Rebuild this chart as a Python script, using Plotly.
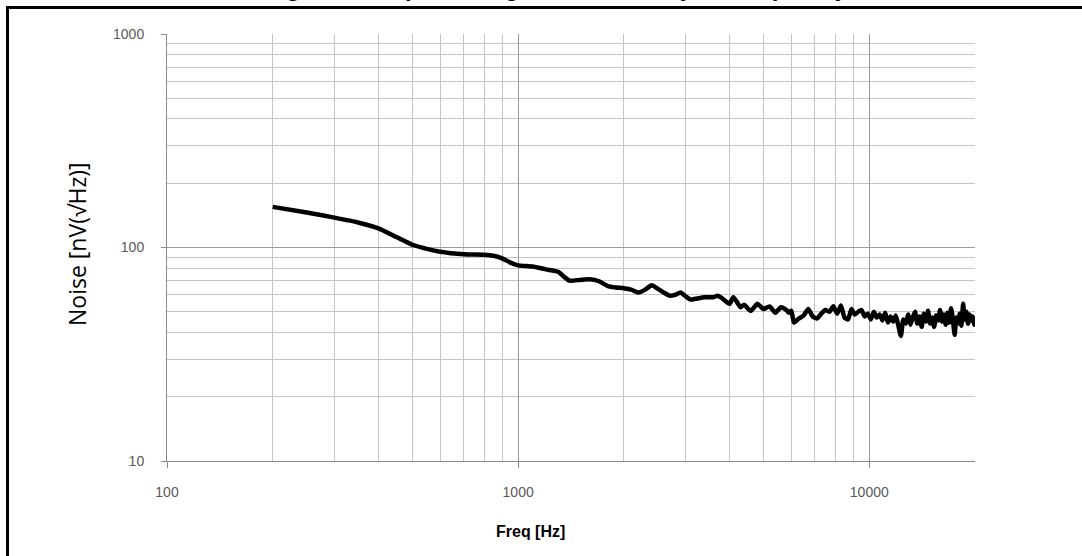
import plotly.graph_objects as go

freq_hz = [200, 250, 300, 350, 400, 450, 500, 550, 600, 700, 800, 850, 900, 950, 1000,
           1100, 1200, 1300, 1350, 1400, 1500, 1600, 1700, 1800, 1900, 2000, 2100, 2200,
           2300, 2400, 2500, 2600, 2700, 2800, 2900, 3000, 3100, 3200, 3400, 3600, 3700,
           3800, 3900, 4000, 4100, 4200, 4300, 4400, 4500, 4600, 4700, 4800, 4900, 5000,
           5200, 5400, 5600, 5800, 5900, 6000, 6100, 6300, 6500, 6700, 6900, 7100, 7300,
           7500, 7700, 7900, 8100, 8300, 8500, 8700, 8900, 9100, 9300, 9500, 9700, 9900,
           10100, 10300, 10500, 10700, 10900, 11100, 11300, 11500, 11700, 11900, 12100,
           12300, 12500, 12700, 12900, 13100, 13300, 13500, 13700, 13900, 14100, 14300,
           14500, 14700, 14900, 15100, 15300, 15500, 15700, 15900, 16100, 16300, 16500,
           16700, 16900, 17100, 17300, 17500, 17700, 17900, 18100, 18300, 18500, 18700,
           18900, 19100, 19300, 19500, 19700, 19900, 20000]

noise_nv = [155, 146, 138, 131, 123, 112, 103, 98.5, 95.5, 93, 92.5, 91.5, 89, 85, 82.5,
            81.5, 79, 77, 73, 70, 70.5, 71, 69.5, 66, 65, 64.5, 63.5, 61.5,
            63.5, 66.5, 64, 61.5, 59.5, 60, 61.5, 59, 57, 57.5, 58.5, 58.5, 59.5,
            58, 56, 54.5, 58.5, 55.5, 52.5, 54, 52, 50.5, 52.5, 54.5, 53, 51.5,
            53, 49.5, 52.5, 51, 49.5, 50.5, 44.5, 46.5, 48, 51.5, 47.5, 46.5, 49,
            51, 50, 53, 49, 53.5, 47, 46, 51.5, 48.5, 50, 51, 47.5, 49,
            46, 50, 47, 48.5, 45.5, 49.5, 44.5, 47.5, 45, 48, 43,
            38.5, 46, 44, 48.5, 43.5, 47, 50, 44, 47.5, 42.5, 49,
            45, 50.5, 44, 47, 42.5, 48, 45.5, 51, 45, 48.5, 43.5,
            49.5, 44.5, 52, 46, 39, 47, 44, 49, 43, 54.5, 46,
            50, 44, 48.5, 45.5, 47.5, 43.5, 46]

x_tick_vals = [100, 1000, 10000]
x_tick_text = ["100", "1000", "10000"]
y_tick_vals = [10, 100, 1000]
y_tick_text = ["10", "100", "1000"]

title_text = "Figure 11. Input voltage noise density vs frequency"
x_title = "Freq [Hz]"
y_title = "Noise [nV(√Hz)]"

W, H = 1082, 556
L, R, T, B = 167, 107, 34, 95
pw, ph = W - L - R, H - T - B


def px_x(px):
    return (px - L) / pw


def px_y(py):
    return (H - B - py) / ph


fig = go.Figure()
fig.add_trace(go.Scatter(
    x=freq_hz, y=noise_nv, mode="lines",
    line=dict(color="black", width=4.5, shape="spline", smoothing=0.5),
    hoverinfo="x+y", showlegend=False,
))

tick_font = dict(family="Liberation Sans, Arial, sans-serif", size=14, color="#595959")

fig.update_xaxes(
    type="log", range=[2, 4.30103],
    tickvals=x_tick_vals, ticktext=x_tick_text,
    showgrid=True, gridcolor="#9a9a9a", gridwidth=1,
    minor=dict(showgrid=True, gridcolor="#c4c4c4", gridwidth=1,
               dtick="D1", ticks=""),
    showline=True, linecolor="#8c8c8c", linewidth=1,
    ticks="outside", ticklen=6, tickcolor="#8c8c8c",
    tickfont=tick_font, ticklabelstandoff=12,
    zeroline=False, mirror=False,
)
fig.update_yaxes(
    type="log", range=[1, 3],
    tickvals=y_tick_vals, ticktext=y_tick_text,
    showgrid=True, gridcolor="#9a9a9a", gridwidth=1,
    minor=dict(showgrid=True, gridcolor="#c4c4c4", gridwidth=1,
               dtick="D1", ticks=""),
    showline=True, linecolor="#8c8c8c", linewidth=1,
    ticks="outside", ticklen=5, tickcolor="#8c8c8c",
    tickfont=tick_font, ticklabelstandoff=14,
    zeroline=False,
)

fig.add_shape(type="rect", xref="paper", yref="paper",
              x0=px_x(7.5), x1=px_x(1120), y0=px_y(600), y1=px_y(7.5),
              line=dict(color="black", width=3), layer="above")

fig.add_annotation(text=title_text, xref="paper", yref="paper",
                   x=px_x(556), y=px_y(3.5), xanchor="center", yanchor="bottom",
                   showarrow=False,
                   font=dict(family="Liberation Sans, Arial, sans-serif", size=24,
                             color="black", weight="bold"))
fig.add_annotation(text=f"<b>{x_title}</b>", xref="paper", yref="paper",
                   x=px_x(530), y=px_y(531), xanchor="center", yanchor="middle",
                   showarrow=False,
                   font=dict(family="Liberation Sans, Arial, sans-serif", size=16,
                             color="black"))
fig.add_annotation(text=y_title, xref="paper", yref="paper",
                   x=px_x(77), y=px_y(244), xanchor="center", yanchor="middle",
                   textangle=-90, showarrow=False,
                   font=dict(family="Open Sans, sans-serif", size=23, color="black"))

fig.update_layout(
    width=W, height=H,
    margin=dict(l=L, r=R, t=T, b=B, pad=0),
    paper_bgcolor="white", plot_bgcolor="white",
)

fig.write_html(
    "out.html",
    config={"displayModeBar": False},
    post_script="document.body.style.margin='0px';document.body.style.overflow='hidden';",
)
